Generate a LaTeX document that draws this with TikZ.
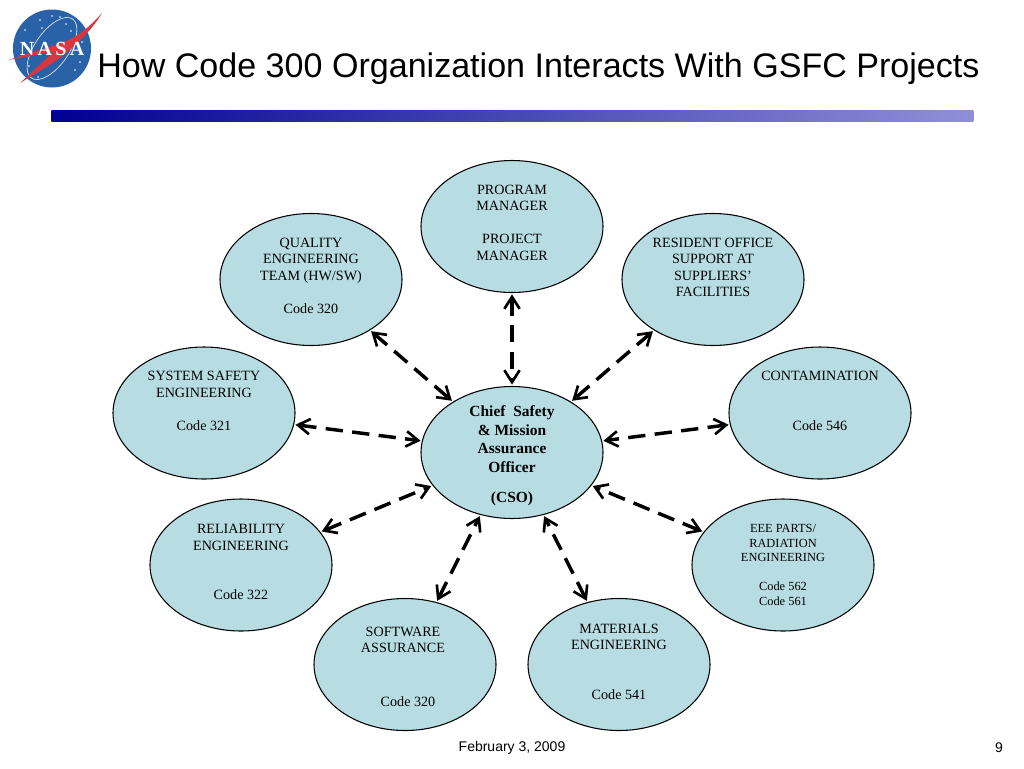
\documentclass[tikz,border=0pt]{standalone}
\usepackage{fontspec}
\setmainfont{Liberation Serif}
\newfontfamily\titlefont{Liberation Sans}
\usetikzlibrary{
        shapes.geometric,
        arrows.meta
    }
\definecolor{bubblefill}{HTML}{B7DDE3}
\definecolor{barstart}{HTML}{000092}
\definecolor{barend}{HTML}{8F8FD8}
\definecolor{logoblue}{HTML}{2A62A8}
\definecolor{logored}{HTML}{D9363E}
\begin{document}
\begin{tikzpicture}
[x=0.75pt, y=-0.75pt,
bubble/.style={ellipse, draw=black, line width=0.8pt, fill=bubblefill, minimum width=136.5pt, minimum height=99pt, inner sep=0pt},
bubbletext/.style={align=center, font=\fontsize{10.6}{12.35}\selectfont, inner sep=0pt},
smalltext/.style={align=center, font=\fontsize{9.3}{10.95}\selectfont, inner sep=0pt},
chieftext/.style={align=center, font=\fontsize{11.6}{14}\selectfont\bfseries, inner sep=0pt},
link/.style={line width=2.6pt, dash pattern=on 13pt off 7pt, {Straight Barb[length=9pt,width=11.5pt,line width=2pt]}-{Straight Barb[length=9pt,width=11.5pt,line width=2pt]}, shorten >=1pt, shorten <=1pt},
footer/.style={font=\titlefont\fontsize{10.5}{12}\selectfont, inner sep=0pt},
]
    \useasboundingbox (0,0) rectangle (1024,768);

    % logo
    \fill[logoblue] (52,48.5) circle [radius=39];
    \draw[white!85!logoblue, line width=0.5pt, rotate around={-35:(52,48.5)}] (52,48.5) ellipse [x radius=17, y radius=36];
    \foreach \sx/\sy in {40/20, 52/16, 60/17, 71/31, 80/62, 75/70, 38/77, 29/66, 42/28, 66/24, 82/42, 25/30}
        \fill[white] (\sx,\sy) circle [radius=0.8];
    \fill[logored] (102,13) .. controls (85,32) and (72,40) .. (58,44) .. controls (40,50) and (22,55) .. (9,60) .. controls (25,57) and (40,54) .. (54,52) .. controls (42,62) and (30,74) .. (20,83) .. controls (45,68) and (65,56) .. (75,45) .. controls (85,36) and (95,25) .. (102,13) -- cycle;
    \node (nasa) [font=\fontsize{15}{15}\selectfont\bfseries, text=white, inner sep=0pt] at (52,49) {N\,A\,S\,A};

    % title and bar
    \node (title) [anchor=west, font=\titlefont\fontsize{25.55}{30}\selectfont, inner sep=0pt] at (97,69) {How Code 300 Organization Interacts With GSFC Projects};
    \node (bar) [anchor=north west, minimum width=691.5pt, minimum height=8.25pt, inner sep=0pt, left color=barstart, right color=barend] at (51,110) {};

    % bubbles
    \node (manager) [bubble, label={[name=managertext, bubbletext, yshift=2.8pt]center:{PROGRAM\\MANAGER\\ \\PROJECT\\MANAGER}}] at (512,226.5) {};
    \node (quality) [bubble, label={[name=qualitytext, bubbletext, yshift=2.8pt]center:{QUALITY\\ENGINEERING\\TEAM (HW/SW)\\ \\Code 320}}] at (311,279.5) {};
    \node (resident) [bubble, label={[name=residenttext, bubbletext, yshift=9pt]center:{RESIDENT OFFICE\\SUPPORT AT\\SUPPLIERS’\\FACILITIES}}] at (713,279.5) {};
    \node (safety) [bubble, label={[name=safetytext, bubbletext, yshift=9pt]center:{SYSTEM SAFETY\\ENGINEERING\\ \\Code 321}}] at (204,413) {};
    \node (contam) [bubble, label={[name=contamtext, bubbletext, yshift=9pt]center:{CONTAMINATION\\ \\ \\Code 546}}] at (820,413) {};
    \node (chief) [bubble, label={[name=chieftitle, chieftext, yshift=-2.4pt]center:{Chief\ \ Safety\\\& Mission\\Assurance\\Officer\\[8.5pt](CSO)}}] at (512,452.5) {};
    \node (reliab) [bubble, label={[name=reliabtext, bubbletext, yshift=2.2pt]center:{RELIABILITY\\ENGINEERING\\ \\ \\Code 322}}] at (241,565) {};
    \node (parts) [bubble, label={[name=partstext, smalltext]center:{EEE PARTS/\\RADIATION\\ENGINEERING\\ \\Code 562\\Code 561}}] at (783,565) {};
    \node (software) [bubble, label={[name=softwaretext, bubbletext, yshift=-1.5pt, xshift=-1.5pt]center:{SOFTWARE\\ASSURANCE\\ \\[3pt] \\\hspace*{7.5pt}Code 320}}] at (405,664.5) {};
    \node (material) [bubble, label={[name=materialtext, bubbletext, yshift=2.2pt]center:{MATERIALS\\ENGINEERING\\ \\ \\Code 541}}] at (619,664.5) {};

    % links to the officer
    \foreach \other in {manager, quality, resident, safety, contam, reliab, parts, software, material}
        \draw[link] (\other) -- (chief);

    % footer
    \node (date) [footer] at (512,748) {February 3, 2009};
    \node (page) [footer] at (999,748) {9};
\end{tikzpicture}
\end{document}
